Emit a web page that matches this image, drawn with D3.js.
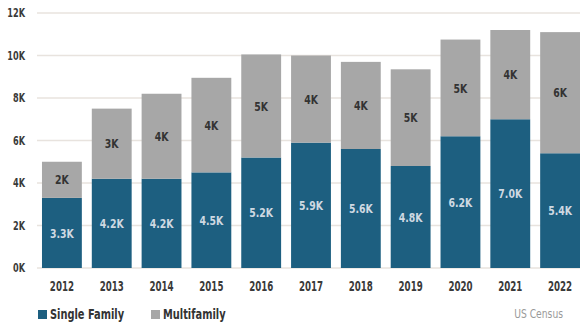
<!DOCTYPE html>
<html><head><meta charset="utf-8">
<script src="https://cdn.jsdelivr.net/npm/d3@7/dist/d3.min.js"></script>
<style>
html,body{margin:0;padding:0;background:#fff;}
svg{display:block;}
text{font-family:"DejaVu Sans",sans-serif;}
</style></head>
<body>
<svg id="c" width="580" height="324"></svg>
<script>
const years = ["2012","2013","2014","2015","2016","2017","2018","2019","2020","2021","2022"];
const singleFamily = [3.3,4.2,4.2,4.5,5.2,5.9,5.6,4.8,6.2,7.0,5.4];
const multifamily = [1.7,3.3,4.0,4.45,4.85,4.1,4.1,4.55,4.55,4.2,5.7];
const yTicks = [0,2,4,6,8,10,12];
const seriesNames = ["Single Family","Multifamily"];
const colors = ["#1d5f80","#a7a7a7"];

const svg = d3.select("#c");
const x = d3.scaleBand().domain(years).range([37,585]).paddingInner(0.2).paddingOuter(0.1);
const y = d3.scaleLinear().domain([0,12]).range([268,13]);

// condensed text helper
function ctext(sel, sx){
  return sel.attr("transform", d => `translate(${d._x},${d._y}) scale(${sx},1)`);
}

// gridlines
svg.append("g").selectAll("line").data(yTicks).join("line")
  .attr("x1",37).attr("x2",580)
  .attr("y1",d=>y(d)).attr("y2",d=>y(d))
  .attr("stroke","#e8e3de").attr("stroke-width",1.5);

// y tick labels
svg.append("g").selectAll("text").data(yTicks).join("text")
  .attr("transform",d=>`translate(25,${y(d)}) scale(0.68,1)`).attr("dy","0.36em")
  .attr("text-anchor","end").attr("font-size",12).attr("font-weight","bold")
  .attr("fill","#3a3a3a").text(d=>d+"K");

const rows = years.map((yr,i)=>({year:yr,sf:singleFamily[i],mf:multifamily[i]}));

// stacks
const stack = d3.stack().keys(["sf","mf"])(rows);
svg.append("g").selectAll("g").data(stack).join("g")
  .attr("fill",(d,i)=>colors[i])
  .selectAll("rect").data(d=>d).join("rect")
  .attr("x",d=>x(d.data.year)).attr("width",x.bandwidth())
  .attr("y",d=>y(d[1])).attr("height",d=>y(d[0])-y(d[1]));

// labels
const lab = svg.append("g");
stack.forEach((s,si)=>{
  lab.selectAll(null).data(s).join("text")
    .attr("transform",d=>`translate(${x(d.data.year)+x.bandwidth()/2},${(y(d[0])+y(d[1]))/2}) scale(0.72,1)`)
    .attr("dy","0.36em")
    .attr("text-anchor","middle").attr("font-size",13)
    .attr("font-weight", "bold")
    .attr("fill", si===0?"#cfd9e2":"#333")
    .text(d=> si===0 ? d3.format(".1f")(d.data.sf)+"K" : Math.round(d.data.mf)+"K");
});

// x labels
svg.append("g").selectAll("text").data(years).join("text")
  .attr("transform",d=>`translate(${x(d)+x.bandwidth()/2},286) scale(0.62,1)`).attr("dy","0.36em")
  .attr("text-anchor","middle").attr("font-size",14).attr("font-weight","bold")
  .attr("fill","#3a3a3a").text(d=>d);

// legend
const legX = [38,151];
seriesNames.forEach((n,i)=>{
  svg.append("rect").attr("x",legX[i]).attr("y",310).attr("width",9).attr("height",9).attr("fill",colors[i]);
  svg.append("text").attr("transform",`translate(${legX[i]+12},314) scale(0.73,1)`).attr("dy","0.36em")
    .attr("font-size",13.5).attr("font-weight","bold").attr("fill","#333").text(n);
});
svg.append("text").attr("transform","translate(563,314) scale(0.8,1)").attr("dy","0.36em").attr("text-anchor","end")
  .attr("font-size",11.5).attr("fill","#9a9a9a").text("US Census");
</script>
</body></html>
